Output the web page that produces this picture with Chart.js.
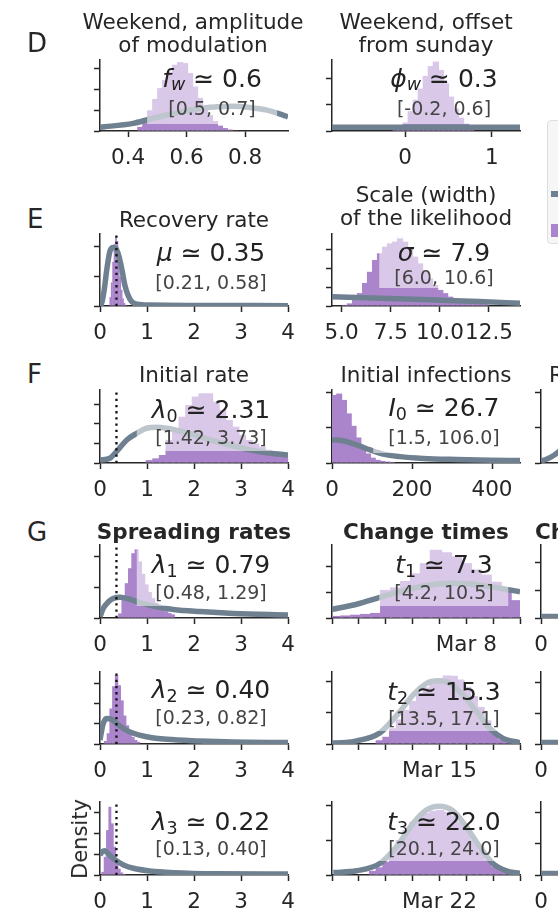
<!DOCTYPE html>
<html><head><meta charset="utf-8">
<script src="https://cdn.jsdelivr.net/npm/chart.js@4.4.1/dist/chart.umd.min.js"></script>
<style>
html,body{margin:0;padding:0;background:#fff;}
body{width:558px;height:914px;overflow:hidden;position:relative;font-family:'DejaVu Sans',sans-serif;color:#262626;}
canvas{position:absolute;}
.t{position:absolute;font-size:21.5px;line-height:23px;text-align:center;white-space:nowrap;transform:translateX(-50%);}
.b{font-weight:bold;}
.let{position:absolute;font-size:26px;line-height:26px;left:27px;}
.box{position:absolute;background:rgba(255,255,255,0.55);transform:translateX(-50%);padding:0 15px 9px 15px;white-space:nowrap;text-align:center;}
.l1{font-size:25px;line-height:44px;height:44px;color:#222;}
.l2{font-size:19px;line-height:14px;height:14px;color:#444;}
.l1 sub{font-size:70%;line-height:0;}
.l1 i{font-style:oblique;}
.leg{position:absolute;left:547px;top:120px;width:130px;height:124px;background:#f6f6f6;border:1px solid #dedede;border-radius:4px;box-sizing:border-box;}
</style></head>
<body>
<script>
// ---------------- data ----------------
const PRIOR_COLOR = '#6f8091';
const POST_COLOR = '#ab85cb';
const MU_MEDIAN = 0.35;

// D: weekend amplitude f_w
const FW_BIN_X = [0.442,0.459,0.476,0.493,0.510,0.527,0.544,0.561,0.578,0.595,0.612,0.629,0.646,0.663,0.680,0.697,0.714,0.731,0.748,0.765];
const FW_HIST  = [0.20,0.60,1.00,1.55,2.07,2.46,2.86,3.20,3.33,3.28,2.80,2.15,1.60,1.10,0.77,0.48,0.26,0.14,0.07,0.03];
const FW_PRIOR_X = [0.304,0.417,0.475,0.533,0.588,0.646,0.704,0.759,0.817,0.875,0.930,0.947];
const FW_PRIOR_Y = [0.18,0.37,0.58,0.77,0.93,1.10,1.17,1.20,1.14,1.01,0.77,0.68];
const FW_XTICKS = [0.4,0.6,0.8];
const FW_XLABELS = ['0.4','0.6','0.8'];

// D: weekend offset phi_w
const PHI_BIN_X = [-0.108,-0.050,0.008,0.066,0.124,0.182,0.240,0.298,0.356,0.414,0.472,0.530,0.588,0.646,0.704,0.762];
const PHI_HIST  = [0.06,0.15,0.32,0.75,1.18,1.60,2.08,2.45,2.62,2.30,1.80,1.30,0.85,0.50,0.28,0.12];
const PHI_PRIOR_X = [-0.842,1.326];
const PHI_PRIOR_Y = [0.14,0.14];
const PHI_XTICKS = [0,1];
const PHI_XLABELS = ['0','1'];

// E: recovery rate mu
const MU_BIN_X = [0.22,0.25,0.28,0.31,0.34,0.37,0.40,0.43,0.46,0.49,0.52,0.55];
const MU_HIST  = [0.30,0.80,1.50,2.10,2.35,2.20,1.60,1.00,0.55,0.25,0.10,0.04];
const MU_PRIOR_X = [0,0.02,0.085,0.15,0.21,0.28,0.34,0.40,0.47,0.53,0.60,0.68,0.79,1.06,2.1,4.0];
const MU_PRIOR_Y = [0.01,0.02,0.50,1.30,1.85,1.98,1.95,1.70,1.20,0.70,0.35,0.14,0.06,0.03,0.02,0.01];

// E: likelihood scale sigma
const SIG_BIN_X = [5.16,5.42,5.68,5.93,6.19,6.44,6.70,6.95,7.21,7.46,7.72,7.97,8.23,8.48,8.74,8.99,9.25,9.50,9.76,10.02,10.27,10.53,10.78,11.04,11.29,11.55,11.80,12.06,12.31];
const SIG_HIST  = [0.06,0.14,0.32,0.69,1.23,1.83,2.46,2.82,3.17,3.35,3.44,3.62,3.44,3.08,2.64,2.28,1.93,1.48,1.12,0.86,0.69,0.50,0.40,0.32,0.27,0.22,0.17,0.13,0.10];
const SIG_PRIOR_X = [4.506,7.0,9.5,12.0,14.08];
const SIG_PRIOR_Y = [0.50,0.42,0.33,0.24,0.15];
const SIG_XTICKS = [5,7.5,10,12.5];
const SIG_XLABELS = ['5.0','7.5','10.0','12.5'];

// F: initial rate lambda_0
const L0_BIN_X = [1.06,1.20,1.34,1.48,1.62,1.76,1.90,2.04,2.18,2.32,2.46,2.60,2.74,2.88,3.02,3.16,3.30,3.44,3.58,3.72,3.86,4.00];
const L0_HIST  = [0.15,0.24,0.41,1.18,1.78,2.37,2.97,3.40,3.57,3.57,3.14,2.72,2.20,1.86,1.44,1.18,1.00,0.84,0.67,0.58,0.50,0.41];
const L0_PRIOR_X = [0,0.21,0.35,0.57,0.78,0.99,1.20,1.42,1.77,2.13,2.48,2.84,3.19,3.55,4.0];
const L0_PRIOR_Y = [0.15,0.24,0.58,1.18,1.52,1.78,1.83,1.78,1.60,1.35,1.09,0.87,0.67,0.53,0.41];

// F: initial infections I_0
const I0_BIN_X = [6,18,30,42,54,66,78,90,102,114,126,138,150];
const I0_HIST  = [1.92,1.96,1.78,1.40,1.05,0.72,0.46,0.27,0.15,0.09,0.06,0.04,0.03];
const I0_PRIOR_X = [0,28,62,95,128,170,228,312,395,470];
const I0_PRIOR_Y = [0.65,0.63,0.51,0.37,0.25,0.18,0.13,0.10,0.08,0.07];
const I0_XTICKS = [0,200,400];
const I0_XLABELS = ['0','200','400'];

// F: reporting delay (only its left edge is in frame)
const D_PRIOR_X = [0,0.4,0.8,1.2,1.6,2.0];
const D_PRIOR_Y = [0.06,0.10,0.16,0.24,0.34,0.46];
const D_XTICKS = [4,8,12];
const D_XLABELS = ['4','8','12'];

// G: spreading rates
const L1_BIN_X = [0.43,0.50,0.57,0.64,0.71,0.78,0.85,0.92,0.99,1.06,1.13,1.20,1.27,1.34,1.41,1.48,1.55];
const L1_HIST  = [0.15,0.59,1.14,1.63,2.12,2.25,1.85,1.45,1.10,0.85,0.65,0.50,0.40,0.30,0.22,0.16,0.12];
const L1_PRIOR_X = [0,0.07,0.18,0.28,0.43,0.64,0.85,1.13,1.56,2.13,2.84,4.0];
const L1_PRIOR_Y = [0.04,0.32,0.53,0.64,0.68,0.61,0.50,0.39,0.28,0.21,0.15,0.10];

const L2_BIN_X = [0.120,0.178,0.236,0.294,0.352,0.410,0.468,0.526,0.584,0.642,0.700,0.758,0.816];
const L2_HIST  = [0.15,0.53,1.75,2.85,3.40,2.90,2.15,1.40,0.92,0.55,0.35,0.20,0.11];
const L2_PRIOR_X = [0,0.06,0.14,0.25,0.35,0.53,0.71,0.99,1.42,2.13,2.84,4.0];
const L2_PRIOR_Y = [0.20,0.94,1.26,1.21,1.02,0.72,0.53,0.36,0.23,0.15,0.10,0.07];

const L3_BIN_X = [0.06,0.11,0.16,0.21,0.26,0.31,0.36,0.41,0.46,0.51];
const L3_HIST  = [0.15,0.87,2.14,3.25,2.46,1.35,0.63,0.30,0.12,0.05];
const L3_PRIOR_X = [0,0.05,0.10,0.18,0.28,0.50,0.71,1.06,1.56,2.48,4.0];
const L3_PRIOR_Y = [0.95,1.12,1.16,1.00,0.79,0.48,0.32,0.19,0.11,0.06,0.05];

// G: change times (day of March)
const T1_BIN_X = [3.17,3.54,3.91,4.28,4.65,5.02,5.39,5.76,6.13,6.50,6.87,7.24,7.61,7.98,8.35,8.72,9.09,9.46,9.83];
const T1_HIST  = [0.08,0.10,0.13,0.16,0.20,1.10,1.20,1.45,1.75,2.15,2.67,2.58,2.42,2.15,1.90,1.70,1.42,1.08,0.70];
const T1_PRIOR_X = [3.0,3.92,4.78,5.78,6.64,7.39,8.13,8.87,9.62,10.0];
const T1_PRIOR_Y = [0.34,0.54,0.81,1.10,1.29,1.36,1.33,1.23,1.10,1.03];
const T1_XTICKS = [3,4,5,6,7,8,9,10];
const T1_XLABELS = ['','','','','','Mar 8','',''];

const T2_BIN_X = [12.78,13.03,13.28,13.53,13.78,14.03,14.28,14.53,14.78,15.03,15.28,15.53,15.78,16.03,16.28,16.53,16.78,17.03,17.28,17.53];
const T2_HIST  = [0.12,0.23,0.50,0.78,1.08,1.37,1.62,1.80,1.96,2.10,2.18,2.17,2.05,1.82,1.53,1.18,0.75,0.38,0.15,0.06];
const T2_PRIOR_X = [11.0,11.5,11.92,12.4,12.78,13.03,13.53,14.02,14.52,14.95,15.39,15.88,16.38,16.87,17.37,18.0];
const T2_PRIOR_Y = [0.03,0.05,0.10,0.20,0.35,0.55,1.03,1.56,1.93,2.01,1.93,1.56,1.03,0.50,0.18,0.04];
const T2_XTICKS = [11,12,13,14,15,16,17,18];
const T2_XLABELS = ['','','','','Mar 15','','',''];

const T3_BIN_X = [19.53,19.78,20.03,20.28,20.53,20.78,21.03,21.28,21.53,21.78,22.03,22.28,22.53,22.78,23.03,23.28,23.53,23.78,24.03,24.28,24.53];
const T3_HIST  = [0.12,0.22,0.38,0.67,1.00,1.29,1.52,1.69,1.78,1.84,1.86,1.81,1.71,1.52,1.29,1.00,0.71,0.43,0.24,0.14,0.07];
const T3_PRIOR_X = [18.05,18.92,19.78,20.4,21.02,21.51,21.98,22.5,23.0,23.5,23.99,24.49,25.0];
const T3_PRIOR_Y = [0.07,0.12,0.33,0.81,1.48,1.86,1.97,1.84,1.38,0.81,0.33,0.12,0.05];
const T3_XTICKS = [18,19,20,21,22,23,24,25];
const T3_XLABELS = ['','','','','Mar 22','','',''];

// G: change durations (only left edge in frame)
const DUR_PRIOR_X = [0,12];
const DUR_PRIOR_Y = [0.05,0.05];
const DUR_XTICKS = [0,5,10];
const DUR_XLABELS = ['0','5','10'];

const RATE_XTICKS = [0,1,2,3,4];
const RATE_XLABELS = ['0','1','2','3','4'];

// ---------------- layout ----------------
const PANELS = [
 {L:100,T:60,R:288,B:131,xmin:0.304,xmax:0.947,ymax:3.43,yt:[0,1,2,3],xt:FW_XTICKS,xl:FW_XLABELS,bx:FW_BIN_X,bh:FW_HIST,px:FW_PRIOR_X,py:FW_PRIOR_Y},
 {L:332,T:60,R:520,B:131,xmin:-0.842,xmax:1.326,ymax:2.68,yt:[0,1,2],xt:PHI_XTICKS,xl:PHI_XLABELS,bx:PHI_BIN_X,bh:PHI_HIST,px:PHI_PRIOR_X,py:PHI_PRIOR_Y},
 {L:100,T:234,R:288,B:306,xmin:0,xmax:4,ymax:2.44,yt:[0,1,2],xt:RATE_XTICKS,xl:RATE_XLABELS,bx:MU_BIN_X,bh:MU_HIST,px:MU_PRIOR_X,py:MU_PRIOR_Y,dot:true},
 {L:332,T:234,R:520,B:306,xmin:4.506,xmax:14.08,ymax:3.85,yt:[0,1,2,3],xt:SIG_XTICKS,xl:SIG_XLABELS,bx:SIG_BIN_X,bh:SIG_HIST,px:SIG_PRIOR_X,py:SIG_PRIOR_Y},
 {L:100,T:390,R:288,B:463,xmin:0,xmax:4,ymax:3.74,yt:[0,1,2,3],xt:RATE_XTICKS,xl:RATE_XLABELS,bx:L0_BIN_X,bh:L0_HIST,px:L0_PRIOR_X,py:L0_PRIOR_Y,dot:true},
 {L:332,T:390,R:520,B:463,xmin:0,xmax:470,ymax:2.06,yt:[0,1,2],xt:I0_XTICKS,xl:I0_XLABELS,bx:I0_BIN_X,bh:I0_HIST,px:I0_PRIOR_X,py:I0_PRIOR_Y},
 {L:541,T:390,R:729,B:463,xmin:0,xmax:16,ymax:2.06,yt:[0,1,2],xt:D_XTICKS,xl:D_XLABELS,bx:[],bh:[],px:D_PRIOR_X,py:D_PRIOR_Y},
 {L:100,T:545,R:288,B:618,xmin:0,xmax:4,ymax:2.39,yt:[0,1,2],xt:RATE_XTICKS,xl:RATE_XLABELS,bx:L1_BIN_X,bh:L1_HIST,px:L1_PRIOR_X,py:L1_PRIOR_Y,dot:true},
 {L:332,T:545,R:520,B:618,xmin:3,xmax:10,ymax:2.86,yt:[0,1,2],xt:T1_XTICKS,xl:T1_XLABELS,bx:T1_BIN_X,bh:T1_HIST,px:T1_PRIOR_X,py:T1_PRIOR_Y},
 {L:541,T:545,R:729,B:618,xmin:0,xmax:12,ymax:2.61,yt:[0,1,2],xt:DUR_XTICKS,xl:DUR_XLABELS,bx:[],bh:[],px:DUR_PRIOR_X,py:DUR_PRIOR_Y},
 {L:100,T:672,R:288,B:744,xmin:0,xmax:4,ymax:3.55,yt:[0,1,2,3],xt:RATE_XTICKS,xl:RATE_XLABELS,bx:L2_BIN_X,bh:L2_HIST,px:L2_PRIOR_X,py:L2_PRIOR_Y,dot:true},
 {L:332,T:672,R:520,B:744,xmin:11,xmax:18,ymax:2.29,yt:[0,1,2],xt:T2_XTICKS,xl:T2_XLABELS,bx:T2_BIN_X,bh:T2_HIST,px:T2_PRIOR_X,py:T2_PRIOR_Y},
 {L:541,T:672,R:729,B:744,xmin:0,xmax:12,ymax:2.36,yt:[0,1,2],xt:DUR_XTICKS,xl:DUR_XLABELS,bx:[],bh:[],px:DUR_PRIOR_X,py:DUR_PRIOR_Y},
 {L:100,T:802,R:288,B:875,xmin:0,xmax:4,ymax:3.48,yt:[0,1,2,3],xt:RATE_XTICKS,xl:RATE_XLABELS,bx:L3_BIN_X,bh:L3_HIST,px:L3_PRIOR_X,py:L3_PRIOR_Y,dot:true},
 {L:332,T:802,R:520,B:875,xmin:18,xmax:25,ymax:2.09,yt:[0,1,2],xt:T3_XTICKS,xl:T3_XLABELS,bx:T3_BIN_X,bh:T3_HIST,px:T3_PRIOR_X,py:T3_PRIOR_Y},
 {L:541,T:802,R:729,B:875,xmin:0,xmax:12,ymax:2.35,yt:[0,1,2],xt:DUR_XTICKS,xl:DUR_XLABELS,bx:[],bh:[],px:DUR_PRIOR_X,py:DUR_PRIOR_Y}
];

// annotation: [centre x, line1 centre y, line2 centre y, html1, text2]
const ANNOT = [
 [212,79,108,'<i>f</i><sub style="vertical-align:-0.15em"><i>w</i></sub> ≃ 0.6','[0.5, 0.7]'],
 [444,79,108,'<i>ϕ</i><sub style="vertical-align:-0.15em"><i>w</i></sub> ≃ 0.3','[-0.2, 0.6]'],
 [211,253,282,'<i>μ</i> ≃ 0.35','[0.21, 0.58]'],
 [444,253,277,'<i>σ</i> ≃ 7.9','[6.0, 10.6]'],
 [211,410,437,'<i>λ</i><sub style="vertical-align:-0.22em">0</sub> ≃ 2.31','[1.42, 3.73]'],
 [444,408,437,'<i>I</i><sub style="vertical-align:-0.22em">0</sub> ≃ 26.7','[1.5, 106.0]'],
 [211,565,592,'<i>λ</i><sub style="vertical-align:-0.22em">1</sub> ≃ 0.79','[0.48, 1.29]'],
 [444,565,592,'<i>t</i><sub style="vertical-align:-0.22em">1</sub> ≃ 7.3','[4.2, 10.5]'],
 [211,690,717,'<i>λ</i><sub style="vertical-align:-0.22em">2</sub> ≃ 0.40','[0.23, 0.82]'],
 [444,692,718,'<i>t</i><sub style="vertical-align:-0.22em">2</sub> ≃ 15.3','[13.5, 17.1]'],
 [211,822,848,'<i>λ</i><sub style="vertical-align:-0.22em">3</sub> ≃ 0.22','[0.13, 0.40]'],
 [444,822,848,'<i>t</i><sub style="vertical-align:-0.22em">3</sub> ≃ 22.0','[20.1, 24.0]']
];

// titles: [centre x, cap-centre y of first line, html, bold]
const TITLES = [
 [193,21.7,'Weekend, amplitude<br>of modulation',false],
 [426,21.3,'Weekend, offset<br>from sunday',false],
 [194,219.2,'Recovery rate',false],
 [426,194.2,'Scale (width)<br>of the likelihood',false],
 [194,374.2,'Initial rate',false],
 [426,374.2,'Initial infections',false],
 [194,531.7,'Spreading rates',true],
 [426,531.7,'Change times',true]
];
const LETTERS = [['D',42.5],['E',218.3],['F',373.3],['G',531.7]];

// ---------------- drawing ----------------
const PL=10, YW=8, PR=26, PT=12, XH=46;
const INK = '#262626';
const FONT = "'DejaVu Sans', sans-serif";

function panel(p){
  const c = document.createElement('canvas');
  const w = (p.R-p.L)+PL+YW+PR, h = (p.B-p.T)+PT+XH;
  c.width = w; c.height = h;
  c.style.left = (p.L-PL-YW)+'px'; c.style.top = (p.T-PT)+'px';
  c.style.width = w+'px'; c.style.height = h+'px';
  document.body.appendChild(c);
  const ds = [
    {type:'bar', data:p.bx.map((x,i)=>({x:x,y:p.bh[i]})), backgroundColor:POST_COLOR, borderColor:POST_COLOR,
     borderWidth:0, barPercentage:1.25, categoryPercentage:1, order:3, clip:0},
    {type:'line', data:p.px.map((x,i)=>({x:x,y:p.py[i]})), borderColor:PRIOR_COLOR, borderWidth:5.5,
     pointRadius:0, cubicInterpolationMode:'monotone', fill:false, order:2, clip:0, borderCapStyle:'butt'}
  ];
  if (p.dot) ds.push({type:'line', data:[{x:MU_MEDIAN,y:0},{x:MU_MEDIAN,y:p.ymax}], borderColor:'#111',
     borderWidth:2.3, borderDash:[2.3,3.9], pointRadius:0, fill:false, order:1, clip:0});
  const gridOpt = {drawOnChartArea:false, drawTicks:true, tickLength:6, tickWidth:1.5, color:INK, tickColor:INK, offset:false};
  new Chart(c, {
    type:'bar',
    data:{datasets:ds},
    options:{
      responsive:false, animation:false, events:[],
      layout:{padding:{left:PL,right:PR,top:PT,bottom:0}},
      plugins:{legend:{display:false}, tooltip:{enabled:false}},
      scales:{
        x:{type:'linear', min:p.xmin, max:p.xmax, offset:false,
           afterFit:s=>{s.height=XH;},
           afterBuildTicks:s=>{s.ticks=p.xt.map(v=>({value:v}));},
           ticks:{callback:(v,i)=>p.xl[i], font:{family:FONT,size:21.5}, color:INK, padding:9, maxRotation:0, autoSkip:false, includeBounds:false},
           grid:gridOpt, border:{display:true,color:INK,width:1.5}},
        y:{type:'linear', min:0, max:p.ymax,
           afterFit:s=>{s.width=YW;},
           afterBuildTicks:s=>{s.ticks=p.yt.map(v=>({value:v}));},
           ticks:{display:false},
           grid:gridOpt, border:{display:true,color:INK,width:1.5}}
      }
    }
  });
}
PANELS.forEach(panel);

function add(html, cls, style){
  const d=document.createElement('div'); d.className=cls; d.innerHTML=html;
  Object.assign(d.style, style); document.body.appendChild(d); return d;
}
TITLES.forEach(t=>add(t[2], 't'+(t[3]?' b':''), {left:t[0]+'px', top:(t[1]-11.4)+'px'}));
LETTERS.forEach(l=>add(l[0], 'let', {top:(l[1]-12.5)+'px'}));
add('Reporting delay','t',{left:'549px',top:(374.2-11.4)+'px',transform:'none'});
add('Change duration','t b',{left:'535px',top:(531.7-11.4)+'px',transform:'none'});
ANNOT.forEach(a=>{
  const box = add('<div class="l1">'+a[3]+'</div><div class="l2">'+a[4]+'</div>','box',
    {left:a[0]+'px', top:(a[1]-22)+'px'});
  box.querySelector('.l2').style.height = (2*(a[2]-a[1]-22))+'px';
  box.querySelector('.l2').style.lineHeight = (2*(a[2]-a[1]-22))+'px';
});
// y label
add('Density','',{position:'absolute',left:'80px',top:'839px',fontSize:'21px',lineHeight:'24px',whiteSpace:'nowrap',
  transform:'translate(-50%,-50%) rotate(-90deg)'});
// legend (only its left edge is in frame)
add('<div style="position:absolute;left:3px;top:70px;width:30px;height:6px;background:'+PRIOR_COLOR+'"></div>'+
  '<div style="position:absolute;left:40px;top:62px;font-size:18px">Prior</div>'+
  '<div style="position:absolute;left:3px;top:103px;width:30px;height:13px;background:'+POST_COLOR+'"></div>'+
  '<div style="position:absolute;left:40px;top:98px;font-size:18px">Posterior</div>','leg',{});
</script>
</body></html>
